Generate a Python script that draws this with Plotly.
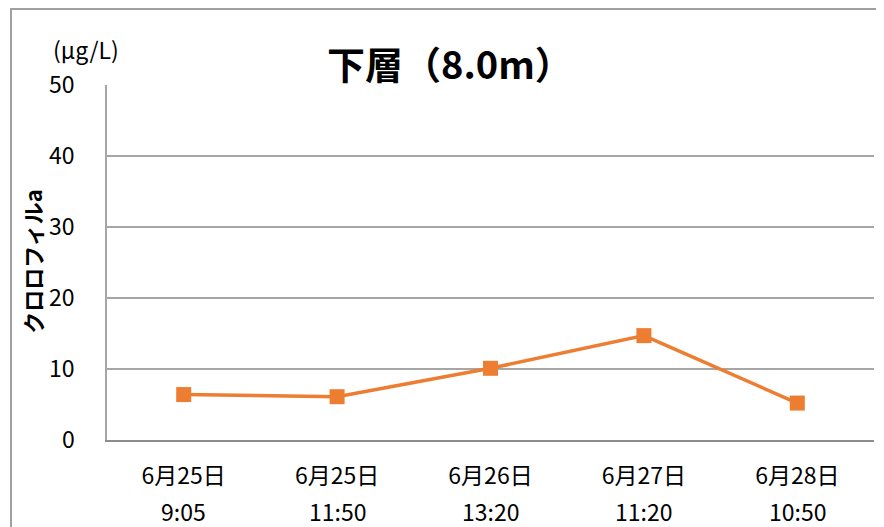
import plotly.graph_objects as go

dates = ["6月25日", "6月25日", "6月26日", "6月27日", "6月28日"]
times = ["9:05", "11:50", "13:20", "11:20", "10:50"]
values = [6.4, 6.1, 10.1, 14.7, 5.2]
categories = [d + " " + t for d, t in zip(dates, times)]
y_ticks = [0, 10, 20, 30, 40, 50]

FONT = "Noto Sans CJK JP"
OFF = 8  # page body margin of the rendered html
W, H = 884 - OFF, 527 - OFF

# target positions in window pixels
PL, PR, PT, PB = 107, 874, 85, 440.5

ml = PL - OFF
mr = W - (PR - OFF)
mt = PT - OFF
mb = H - (PB - OFF)

fig = go.Figure()
fig.add_trace(go.Scatter(
    x=categories, y=values, mode="lines+markers",
    line=dict(color="#ED7D31", width=3.5),
    marker=dict(symbol="square", size=15, color="#ED7D31"),
    showlegend=False, hoverinfo="skip",
))

fig.update_layout(
    width=W, height=H,
    margin=dict(l=ml, r=mr, t=mt, b=mb, pad=0),
    paper_bgcolor="white", plot_bgcolor="white",
    font=dict(family=FONT, color="#000000", size=23),
)
fig.update_xaxes(
    type="category", tickmode="array", tickvals=categories, ticktext=dates,
    tickfont=dict(family=FONT, size=23, color="#000"),
    showgrid=False, showline=True, linecolor="#8c8c8c", linewidth=2,
    ticks="outside", ticklen=14, tickcolor="rgba(0,0,0,0)",
    range=[-0.5, len(categories) - 0.5], fixedrange=True,
)
fig.update_yaxes(
    range=[0, 50], tickmode="array", tickvals=y_ticks,
    tickfont=dict(family=FONT, size=23, color="#000"),
    showgrid=True, gridcolor="#a6a6a6", gridwidth=1.5,
    showline=True, linecolor="#a6a6a6", linewidth=1.5,
    ticks="outside", ticklen=26, tickcolor="rgba(0,0,0,0)",
    zeroline=False, fixedrange=True,
)

pw = W - ml - mr
ph = H - mt - mb
def px_x(px):
    return (px - OFF - ml) / pw
def px_y(py):
    return (H - mb - (py - OFF)) / ph

# time (second line) labels
for c, t in zip(categories, times):
    fig.add_annotation(x=c, xref="x", y=px_y(512), yref="paper", text=t,
                       showarrow=False, yanchor="middle", xanchor="center",
                       font=dict(family=FONT, size=23, color="#000"))

# title
fig.add_annotation(x=px_x(450), xref="paper", y=px_y(62), yref="paper",
                   text="<b>下層（8.0m）</b>", showarrow=False,
                   xanchor="center", yanchor="middle",
                   font=dict(family=FONT, size=38, color="#000"))
# unit
fig.add_annotation(x=px_x(51), xref="paper", y=px_y(49), yref="paper",
                   text="(μg/L)", showarrow=False,
                   xanchor="left", yanchor="middle",
                   font=dict(family=FONT, size=23, color="#000"))
# y axis title
fig.add_annotation(x=px_x(32), xref="paper", y=px_y(262), yref="paper",
                   text="<b>クロロフィルa</b>", showarrow=False, textangle=-90,
                   xanchor="center", yanchor="middle",
                   font=dict(family=FONT, size=22, color="#000"))

# outer chart border
fig.add_shape(type="rect", xref="paper", yref="paper",
              x0=px_x(11), x1=px_x(900), y0=px_y(560), y1=px_y(9),
              line=dict(color="#a0a0a0", width=2), fillcolor="rgba(0,0,0,0)",
              layer="below")

fig.write_html("out.html")
